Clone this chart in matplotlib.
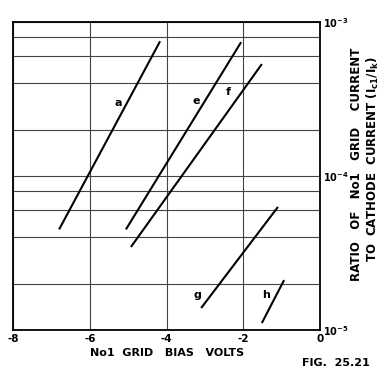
import matplotlib.pyplot as plt
from matplotlib.ticker import FixedLocator, NullFormatter

# curves: end points (bias volts, ratio Ic1/Ik)
a_x = [-6.80, -4.17]
a_y = [4.5e-5, 7.5e-4]
e_x = [-5.06, -2.06]
e_y = [4.5e-5, 7.4e-4]
f_x = [-4.93, -1.52]
f_y = [3.46e-5, 5.33e-4]
g_x = [-3.10, -1.10]
g_y = [1.39e-5, 6.3e-5]
h_x = [-1.52, -0.94]
h_y = [1.11e-5, 2.11e-5]

curve_names = ["a", "e", "f", "g", "h"]
x_ticks = [-8, -6, -4, -2, 0]
x_tick_labels = ["-8", "-6", "-4", "-2", "0"]
y_ticks = [1e-5, 1e-4, 1e-3]
y_tick_labels = [r"$10^{-5}$", r"$10^{-4}$", r"$10^{-3}$"]
y_minor = [2e-5, 4e-5, 6e-5, 8e-5, 2e-4, 4e-4, 6e-4, 8e-4]

plt.rcParams["font.family"] = "DejaVu Sans"
plt.rcParams["font.weight"] = "bold"
plt.rcParams["mathtext.default"] = "bf"

fig = plt.figure(figsize=(3.83, 3.70), dpi=100)
ax = fig.add_axes([0.034, 0.108, 0.802, 0.8325])

curves = [(a_x, a_y), (e_x, e_y), (f_x, f_y), (g_x, g_y), (h_x, h_y)]
for cx, cy in curves:
    ax.plot(cx, cy, color="black", lw=1.5, solid_capstyle="butt")

# letter labels next to each curve
label_pos = {"a": (-5.27, 3.0e-4), "e": (-3.23, 3.07e-4), "f": (-2.40, 3.5e-4),
             "g": (-3.21, 1.69e-5), "h": (-1.41, 1.69e-5)}
for name in curve_names:
    lx, ly = label_pos[name]
    ax.text(lx, ly, name, fontsize=8, fontweight="bold", ha="center", va="center")

ax.set_yscale("log")
ax.set_xlim(-8, 0)
ax.set_ylim(1e-5, 1e-3)

ax.set_xticks(x_ticks)
ax.set_xticklabels(x_tick_labels, fontsize=7.5, fontweight="bold")
ax.set_yticks(y_ticks)
ax.set_yticklabels(y_tick_labels, fontsize=7)
ax.yaxis.set_minor_locator(FixedLocator(y_minor))
ax.yaxis.set_minor_formatter(NullFormatter())
ax.yaxis.tick_right()
ax.tick_params(axis="both", which="both", length=0, pad=3)
ax.tick_params(axis="y", pad=2)

ax.grid(True, which="both", color="#444444", lw=0.8)
ax.set_axisbelow(True)
for s in ax.spines.values():
    s.set_linewidth(1.3)
    s.set_color("black")

ax.set_xlabel("No1  GRID   BIAS   VOLTS", fontsize=8, fontweight="bold", labelpad=3)

fig.text(0.932, 0.557, "RATIO   OF   No1   GRID    CURRENT", rotation=90,
         fontsize=8.5, fontweight="bold", ha="center", va="center")
fig.text(0.974, 0.570, r"TO  CATHODE  CURRENT $(I_{c1}/I_k)$", rotation=90,
         fontsize=8.5, fontweight="bold", ha="center", va="center")
fig.text(0.877, 0.019, "FIG.  25.21", fontsize=8, fontweight="bold",
         ha="center", va="center")

plt.savefig("out.png", dpi=100)
